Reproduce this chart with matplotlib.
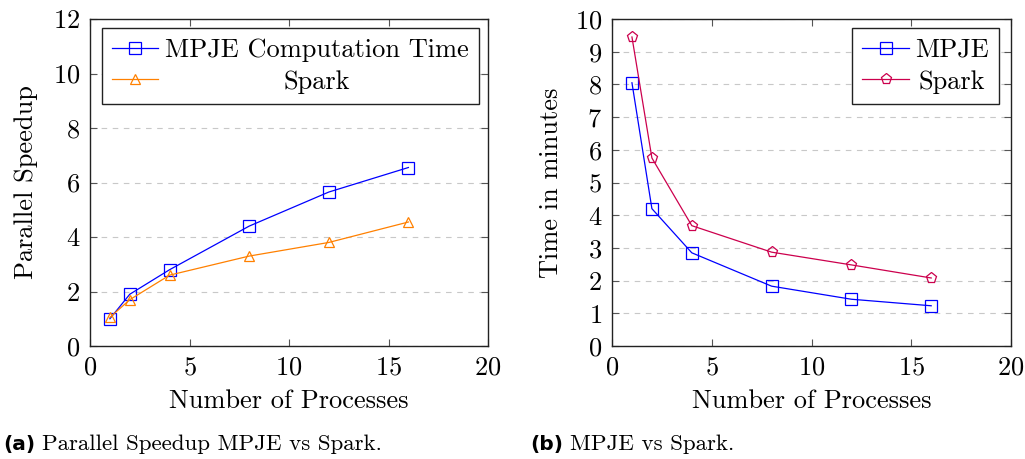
import numpy as np
import matplotlib
matplotlib.use("Agg")
import matplotlib.pyplot as plt
from matplotlib.transforms import Affine2D

# -----------------------------
# DATA
# -----------------------------
procs = [1, 2, 4, 8, 12, 16]

speedup_mpje = [1.0, 1.9, 2.8, 4.4, 5.65, 6.55]
speedup_spark = [1.05, 1.7, 2.6, 3.3, 3.8, 4.55]

time_mpje = [8.05, 4.2, 2.85, 1.83, 1.43, 1.23]
time_spark = [9.45, 5.75, 3.68, 2.87, 2.48, 2.08]

x_ticks = [0, 5, 10, 15, 20]
y_ticks_a = [0, 2, 4, 6, 8, 10, 12]
y_ticks_b = list(range(0, 11))

# -----------------------------
# STYLE
# -----------------------------
plt.rcParams['font.family'] = ['cmr10', 'DejaVu Serif']
plt.rcParams['mathtext.fontset'] = 'cm'
plt.rcParams['axes.formatter.use_mathtext'] = True
FS = 19

blue = (0, 0, 1)
orange = (1, 0.5, 0)
red = (0.8, 0.0, 0.3)

W, H = 1025, 459
fig = plt.figure(figsize=(W / 100, H / 100), dpi=100)


def px_axes(x0, x1, y0, y1):
    return fig.add_axes([x0 / W, 1 - y1 / H, (x1 - x0) / W, (y1 - y0) / H])


def style_axes(ax, yticks):
    ax.set_xlim(0, 20)
    ax.set_ylim(yticks[0], yticks[-1])
    ax.set_xticks(x_ticks)
    ax.set_yticks(yticks)
    ax.tick_params(direction='in', top=True, right=True, length=5,
                   width=0.8, color='#555555', labelsize=FS, pad=7)
    ax.yaxis.grid(True, linestyle=(0, (5, 5)), color='#c8c8c8', linewidth=0.8)
    ax.set_axisbelow(True)
    for s in ax.spines.values():
        s.set_linewidth(1.0)
        s.set_color('#222222')
    ax.set_xlabel("Number of Processes", fontsize=FS, labelpad=7)


def make_legend(ax, loc, anchor):
    leg = ax.legend(loc=loc, bbox_to_anchor=anchor, borderaxespad=0,
                    fontsize=FS, fancybox=False, framealpha=1,
                    edgecolor='#222222', handlelength=1.75, handletextpad=0.25,
                    borderpad=0.38, labelspacing=0.3)
    leg.get_frame().set_linewidth(1.0)
    return leg


def center_legend_text(leg):
    # pgfplots centres the legend entries inside the text column
    fig.canvas.draw()
    texts = leg.get_texts()
    widths = [t.get_window_extent().width for t in texts]
    wmax = max(widths)
    for t, w in zip(texts, widths):
        dx = (wmax - w) / 2
        t.set_transform(t.get_transform() + Affine2D().translate(dx, 0))


# -----------------------------
# (a) speedup
# -----------------------------
ax1 = px_axes(90, 488, 19, 346)
ax1.plot(procs, speedup_mpje, color=blue, lw=0.9, marker='s', ms=8,
         mfc='none', mew=0.9, label="MPJE Computation Time")
ax1.plot(procs, speedup_spark, color=orange, lw=0.9, marker='^', ms=7,
         mfc='none', mew=0.9, label="Spark")
style_axes(ax1, y_ticks_a)
ax1.set_ylabel("Parallel Speedup", fontsize=FS, labelpad=11)
leg1 = make_legend(ax1, 'upper left', (0.03, 0.972))

# -----------------------------
# (b) time
# -----------------------------
ax2 = px_axes(612, 1011, 19, 346)
ax2.plot(procs, time_mpje, color=blue, lw=0.9, marker='s', ms=8,
         mfc='none', mew=0.9, label="MPJE")
ax2.plot(procs, time_spark, color=red, lw=0.9, marker='p', ms=8,
         mfc='none', mew=0.9, label="Spark")
style_axes(ax2, y_ticks_b)
ax2.set_ylabel("Time in minutes", fontsize=FS, labelpad=8.5)
leg2 = make_legend(ax2, 'upper right', (0.97, 0.972))

center_legend_text(leg1)
center_legend_text(leg2)

# -----------------------------
# CAPTIONS
# -----------------------------
cap_fs = 16.5
fig.text(3 / W, 1 - 450 / H, "(a)", fontsize=14.5, family='DejaVu Sans',
         weight='bold', va='baseline')
fig.text(42 / W, 1 - 450 / H, "Parallel Speedup MPJE vs Spark.",
         fontsize=cap_fs, va='baseline')
fig.text(530 / W, 1 - 450 / H, "(b)", fontsize=14.5, family='DejaVu Sans',
         weight='bold', va='baseline')
fig.text(570 / W, 1 - 450 / H, "MPJE vs Spark.", fontsize=cap_fs,
         va='baseline')

fig.savefig("out.png", dpi=100)
